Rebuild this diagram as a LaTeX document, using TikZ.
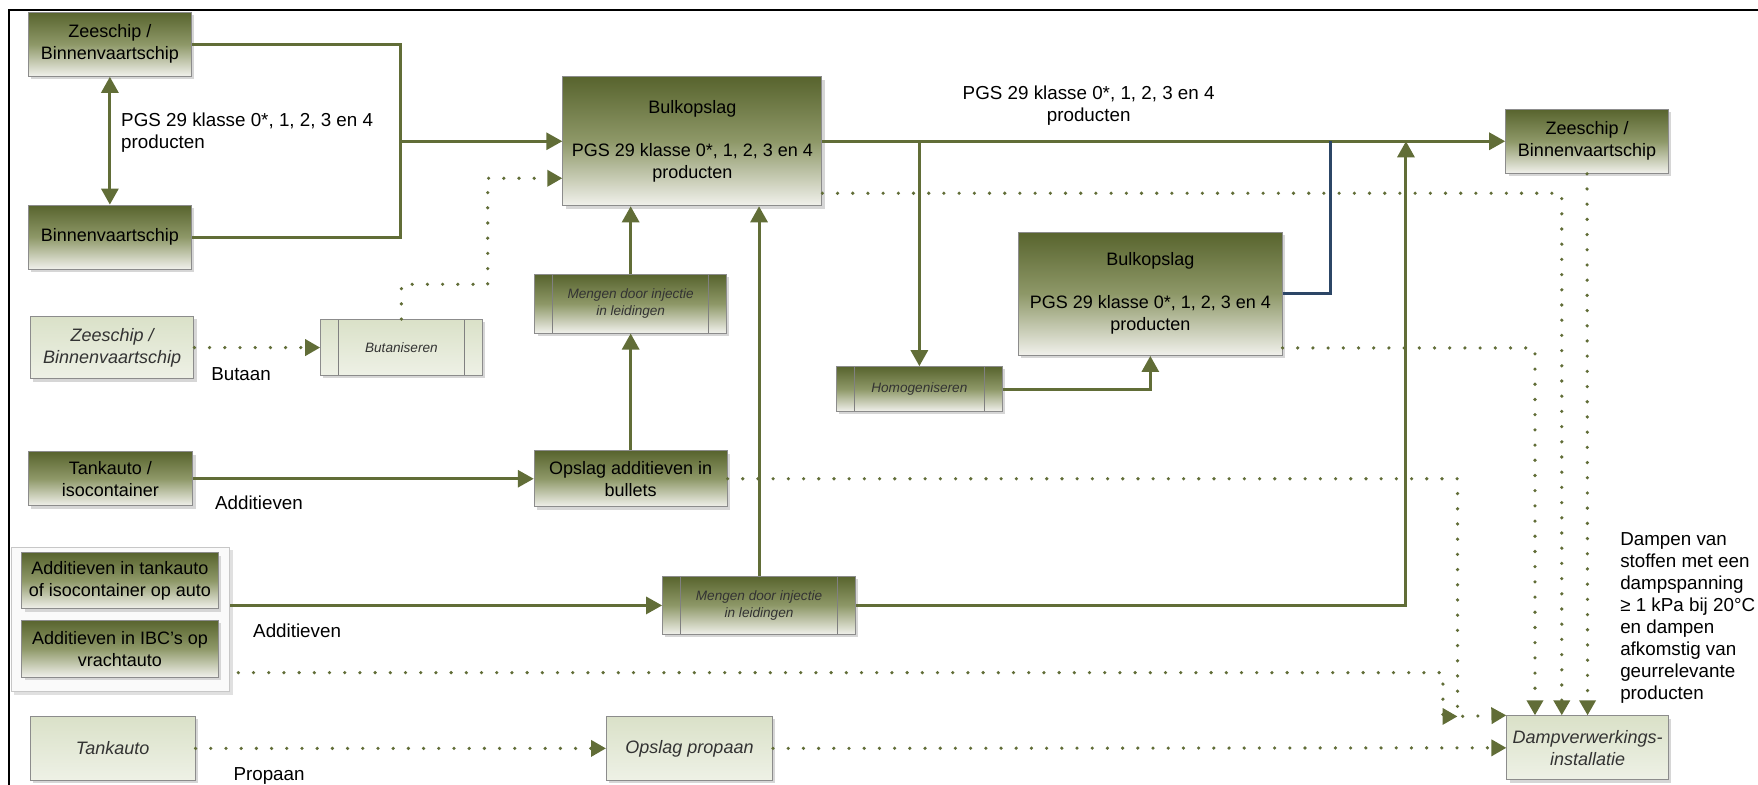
\documentclass[tikz,border=0pt]{standalone}
\usepackage{fontspec}
\setmainfont{Liberation Sans}
\usetikzlibrary{arrows.meta,shadows}
\definecolor{pipegreen}{HTML}{616D37}
\definecolor{olivetop}{HTML}{58642E}
\definecolor{olivemid}{HTML}{8E9868}
\definecolor{olivebot}{HTML}{F1F1EC}
\definecolor{paletop}{HTML}{DAE1C8}
\definecolor{palebot}{HTML}{EEF1E6}
\definecolor{bluepipe}{HTML}{2C4666}

\begin{document}
\begin{tikzpicture}[
    x=0.5606pt,
    y=-0.5606pt,
    every node/.style={font=\fontsize{9}{11}\selectfont},
    darkbox/.style={draw=black!45, line width=0.5pt, top color=olivetop,
      bottom color=olivebot, middle color=olivemid, align=center, inner sep=1pt,
      drop shadow={shadow xshift=1.4pt, shadow yshift=-1.4pt, fill=black!16, opacity=1}},
    lightbox/.style={draw=black!45, line width=0.5pt, top color=paletop,
      bottom color=palebot, align=center, inner sep=1pt, text=black!80,
      font=\fontsize{9}{11}\selectfont\itshape,
      drop shadow={shadow xshift=1.4pt, shadow yshift=-1.4pt, fill=black!16, opacity=1}},
    groupbox/.style={draw=black!22, line width=0.5pt, fill=black!2,
      drop shadow={shadow xshift=1.4pt, shadow yshift=-1.4pt, fill=black!12, opacity=1}},
    procbox/.style={font=\fontsize{6.8}{8.4}\selectfont\itshape, text=black!80,
      path picture={
        \draw[black!50, line width=0.5pt]
          ([xshift=9pt]path picture bounding box.north west) -- ([xshift=9pt]path picture bounding box.south west)
          ([xshift=-9pt]path picture bounding box.north east) -- ([xshift=-9pt]path picture bounding box.south east);
      }},
    pipe/.style={draw=pipegreen, line width=1.5pt},
    flow/.style={pipe, -{Triangle[length=8pt,width=8.5pt]}},
    bluelink/.style={draw=bluepipe, line width=1.4pt},
    vapour/.style={draw=pipegreen, line width=1.8pt, line cap=round, dash pattern=on 0pt off 7.6pt},
    vapourflow/.style={vapour, -{Triangle[length=7.5pt,width=8pt]}},
    note/.style={font=\fontsize{9.4}{11}\selectfont, inner sep=1pt}
  ]
    \useasboundingbox (0,0) rectangle (1568,700);
    % frame of the original figure
    \draw[black, line width=0.9pt] (8,700) -- (8,9) -- (1568,9);

    % supply by ship
    \node[darkbox, minimum width=81.3pt, minimum height=32pt] (zsA) at (98,39.5)
      {Zeeschip /\\Binnenvaartschip};
    \node[darkbox, minimum width=81.3pt, minimum height=32pt] (bvs) at (98,211.5)
      {Binnenvaartschip};
    \node[lightbox, minimum width=81.8pt, minimum height=31.4pt] (zsB) at (100,310)
      {Zeeschip /\\Binnenvaartschip};
    \node[darkbox, minimum width=82.4pt, minimum height=27pt] (tankIso) at (98.5,427)
      {Tankauto /\\isocontainer};

    % additives group
    \node[groupbox, minimum width=109.3pt, minimum height=72.3pt] (grp) at (107.5,552.5) {};
    \node[darkbox, minimum width=98.1pt, minimum height=28pt] (addT) at (107,518)
      {Additieven in tankauto\\of isocontainer op auto};
    \node[darkbox, minimum width=98.1pt, minimum height=28.6pt] (addI) at (107,578.5)
      {Additieven in IBC’s op\\vrachtauto};
    \node[lightbox, minimum width=82.4pt, minimum height=32pt] (tankP) at (100.5,667.5)
      {Tankauto};

    % storage and treatment
    \node[darkbox, minimum width=129.5pt, minimum height=64.5pt] (bulkA) at (617.5,126)
      {Bulkopslag\\[10.5pt]PGS 29 klasse 0*, 1, 2, 3 en 4\\producten};
    \node[darkbox, procbox, minimum width=95.9pt, minimum height=29.2pt] (mengA) at (562.5,271)
      {Mengen door injectie\\in leidingen};
    \node[darkbox, minimum width=96.4pt, minimum height=28pt] (opslagAdd) at (562.5,427)
      {Opslag additieven in\\bullets};
    \node[lightbox, procbox, minimum width=80.7pt, minimum height=28pt] (butan) at (358,310)
      {Butaniseren};
    \node[darkbox, procbox, minimum width=96.4pt, minimum height=29.2pt] (mengB) at (677,540)
      {Mengen door injectie\\in leidingen};
    \node[lightbox, minimum width=83pt, minimum height=32pt] (opslagP) at (615,667.5)
      {Opslag propaan};
    \node[darkbox, procbox, minimum width=83pt, minimum height=22.4pt] (homog) at (820,347)
      {Homogeniseren};
    \node[darkbox, minimum width=131.7pt, minimum height=61.7pt] (bulkB) at (1026,262)
      {Bulkopslag\\[10.5pt]PGS 29 klasse 0*, 1, 2, 3 en 4\\producten};
    \node[darkbox, minimum width=81.3pt, minimum height=32pt] (zsC) at (1415.5,126)
      {Zeeschip /\\Binnenvaartschip};
    \node[lightbox, minimum width=80.7pt, minimum height=32pt] (damp) at (1416,667)
      {Dampverwerkings-\\installatie};

    % product lines
    \coordinate (jL) at (357,126);
    \coordinate (jM) at (1254,126);
    \coordinate (jR) at (1187,126);
    \draw[pipe] (zsA.east) -| (jL) |- (bvs.east);
    \draw[flow] (jL) -- (bulkA.west);
    \draw[pipe, {Triangle[length=8pt,width=8.5pt]}-{Triangle[length=8pt,width=8.5pt]}]
      (zsA.south) -- (bvs.north);
    \draw[flow] (bulkA.east) -- (zsC.west);
    \draw[flow] (bulkA.east -| homog.north) -- (homog.north);
    \draw[flow] (homog.east) -| (bulkB.south);
    \draw[bluelink] (bulkB.east) -| (jR);
    \draw[flow] (mengB.east) -| (jM);
    \draw[flow] (mengB.north) -- (mengB.north |- bulkA.south);
    \draw[flow] (mengA.north) -- (mengA.north |- bulkA.south);
    \draw[flow] (opslagAdd.north) -- (mengA.south);
    \draw[flow] (tankIso.east) -- (opslagAdd.west);
    \draw[flow] (grp.east |- mengB.west) -- (mengB.west);

    % vapour lines (dotted)
    \coordinate (bTop) at (435,159);
    \coordinate (aDown) at (1300,639);
    \coordinate (gDown) at (1287,639);
    \draw[vapourflow] (zsB.east) -- (butan.west);
    \draw[vapourflow] (butan.north) -- ++(0,-31) -| (bTop) -- (bTop -| bulkA.west);
    \draw[vapourflow] (tankP.east) -- (opslagP.west);
    \draw[vapourflow] (opslagP.east) -- (damp.west);
    \draw[vapourflow] ([yshift=6.5pt]bulkA.south east) -| ([xshift=-12.9pt]damp.north);
    \draw[vapourflow] ([yshift=4pt]bulkB.south east) -| ([xshift=-26.3pt]damp.north);
    \draw[vapourflow] (zsC.south) -- (damp.north);
    \draw[vapourflow] (opslagAdd.east) -| (aDown) -- (damp.north west);
    \draw[vapourflow] ([xshift=4pt,yshift=-26.6pt]grp.east) -| (gDown) -- (aDown);

    % labels
    \node[note, anchor=west, align=left] (lblPgsL) at (106,118.5)
      {PGS 29 klasse 0*, 1, 2, 3 en 4\\producten};
    \node[note, align=center] (lblPgsT) at (971,94.5)
      {PGS 29 klasse 0*, 1, 2, 3 en 4\\producten};
    \node[note] (lblButaan) at (215,334) {Butaan};
    \node[note] (lblAddA) at (231,448) {Additieven};
    \node[note] (lblAddB) at (265,563) {Additieven};
    \node[note] (lblPropaan) at (240,692) {Propaan};
    \node[note, anchor=west, align=left] (lblDampen) at (1443,551.5)
      {Dampen van\\stoffen met een\\dampspanning\\≥ 1 kPa bij 20°C\\en dampen\\afkomstig van\\geurrelevante\\producten};
  \end{tikzpicture}
\end{document}
